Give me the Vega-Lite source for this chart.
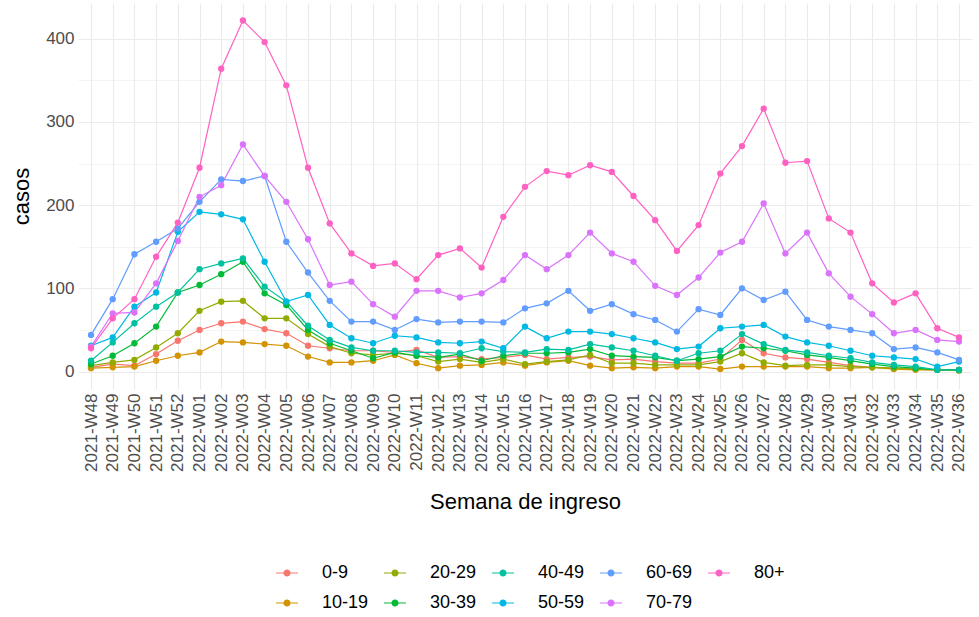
{
  "$schema": "https://vega.github.io/schema/vega-lite/v6.json",
  "width": 894,
  "height": 386,
  "autosize": {"type": "none"},
  "padding": {"left": 78, "top": 3, "right": 7, "bottom": 228},
  "background": "white",
  "config": {"view": {"stroke": null}, "font": "Liberation Sans"},
  "datasets": {
    "d": [
      {"semana":"2021-W48","edad":"0-9","casos":5},{"semana":"2021-W49","edad":"0-9","casos":9},{"semana":"2021-W50","edad":"0-9","casos":7},{"semana":"2021-W51","edad":"0-9","casos":21},{"semana":"2021-W52","edad":"0-9","casos":37},{"semana":"2022-W01","edad":"0-9","casos":50},{"semana":"2022-W02","edad":"0-9","casos":58},{"semana":"2022-W03","edad":"0-9","casos":60},{"semana":"2022-W04","edad":"0-9","casos":51},{"semana":"2022-W05","edad":"0-9","casos":46},{"semana":"2022-W06","edad":"0-9","casos":31},{"semana":"2022-W07","edad":"0-9","casos":28},{"semana":"2022-W08","edad":"0-9","casos":25},{"semana":"2022-W09","edad":"0-9","casos":25},{"semana":"2022-W10","edad":"0-9","casos":23},{"semana":"2022-W11","edad":"0-9","casos":26},{"semana":"2022-W12","edad":"0-9","casos":17},{"semana":"2022-W13","edad":"0-9","casos":18},{"semana":"2022-W14","edad":"0-9","casos":15},{"semana":"2022-W15","edad":"0-9","casos":17},{"semana":"2022-W16","edad":"0-9","casos":20},{"semana":"2022-W17","edad":"0-9","casos":15},{"semana":"2022-W18","edad":"0-9","casos":17},{"semana":"2022-W19","edad":"0-9","casos":18},{"semana":"2022-W20","edad":"0-9","casos":14},{"semana":"2022-W21","edad":"0-9","casos":15},{"semana":"2022-W22","edad":"0-9","casos":12},{"semana":"2022-W23","edad":"0-9","casos":10},{"semana":"2022-W24","edad":"0-9","casos":10},{"semana":"2022-W25","edad":"0-9","casos":15},{"semana":"2022-W26","edad":"0-9","casos":38},{"semana":"2022-W27","edad":"0-9","casos":22},{"semana":"2022-W28","edad":"0-9","casos":17},{"semana":"2022-W29","edad":"0-9","casos":15},{"semana":"2022-W30","edad":"0-9","casos":11},{"semana":"2022-W31","edad":"0-9","casos":7},{"semana":"2022-W32","edad":"0-9","casos":5},{"semana":"2022-W33","edad":"0-9","casos":4},{"semana":"2022-W34","edad":"0-9","casos":3},{"semana":"2022-W35","edad":"0-9","casos":2},{"semana":"2022-W36","edad":"0-9","casos":2},
      {"semana":"2021-W48","edad":"10-19","casos":4},{"semana":"2021-W49","edad":"10-19","casos":5},{"semana":"2021-W50","edad":"10-19","casos":6},{"semana":"2021-W51","edad":"10-19","casos":13},{"semana":"2021-W52","edad":"10-19","casos":19},{"semana":"2022-W01","edad":"10-19","casos":23},{"semana":"2022-W02","edad":"10-19","casos":36},{"semana":"2022-W03","edad":"10-19","casos":35},{"semana":"2022-W04","edad":"10-19","casos":33},{"semana":"2022-W05","edad":"10-19","casos":31},{"semana":"2022-W06","edad":"10-19","casos":18},{"semana":"2022-W07","edad":"10-19","casos":11},{"semana":"2022-W08","edad":"10-19","casos":11},{"semana":"2022-W09","edad":"10-19","casos":13},{"semana":"2022-W10","edad":"10-19","casos":20},{"semana":"2022-W11","edad":"10-19","casos":10},{"semana":"2022-W12","edad":"10-19","casos":4},{"semana":"2022-W13","edad":"10-19","casos":7},{"semana":"2022-W14","edad":"10-19","casos":8},{"semana":"2022-W15","edad":"10-19","casos":11},{"semana":"2022-W16","edad":"10-19","casos":7},{"semana":"2022-W17","edad":"10-19","casos":11},{"semana":"2022-W18","edad":"10-19","casos":13},{"semana":"2022-W19","edad":"10-19","casos":7},{"semana":"2022-W20","edad":"10-19","casos":4},{"semana":"2022-W21","edad":"10-19","casos":5},{"semana":"2022-W22","edad":"10-19","casos":4},{"semana":"2022-W23","edad":"10-19","casos":6},{"semana":"2022-W24","edad":"10-19","casos":6},{"semana":"2022-W25","edad":"10-19","casos":3},{"semana":"2022-W26","edad":"10-19","casos":6},{"semana":"2022-W27","edad":"10-19","casos":6},{"semana":"2022-W28","edad":"10-19","casos":6},{"semana":"2022-W29","edad":"10-19","casos":6},{"semana":"2022-W30","edad":"10-19","casos":4},{"semana":"2022-W31","edad":"10-19","casos":4},{"semana":"2022-W32","edad":"10-19","casos":5},{"semana":"2022-W33","edad":"10-19","casos":3},{"semana":"2022-W34","edad":"10-19","casos":2},{"semana":"2022-W35","edad":"10-19","casos":2},{"semana":"2022-W36","edad":"10-19","casos":2},
      {"semana":"2021-W48","edad":"20-29","casos":7},{"semana":"2021-W49","edad":"20-29","casos":11},{"semana":"2021-W50","edad":"20-29","casos":14},{"semana":"2021-W51","edad":"20-29","casos":29},{"semana":"2021-W52","edad":"20-29","casos":46},{"semana":"2022-W01","edad":"20-29","casos":73},{"semana":"2022-W02","edad":"20-29","casos":84},{"semana":"2022-W03","edad":"20-29","casos":85},{"semana":"2022-W04","edad":"20-29","casos":64},{"semana":"2022-W05","edad":"20-29","casos":64},{"semana":"2022-W06","edad":"20-29","casos":45},{"semana":"2022-W07","edad":"20-29","casos":30},{"semana":"2022-W08","edad":"20-29","casos":22},{"semana":"2022-W09","edad":"20-29","casos":20},{"semana":"2022-W10","edad":"20-29","casos":22},{"semana":"2022-W11","edad":"20-29","casos":19},{"semana":"2022-W12","edad":"20-29","casos":12},{"semana":"2022-W13","edad":"20-29","casos":15},{"semana":"2022-W14","edad":"20-29","casos":11},{"semana":"2022-W15","edad":"20-29","casos":15},{"semana":"2022-W16","edad":"20-29","casos":9},{"semana":"2022-W17","edad":"20-29","casos":12},{"semana":"2022-W18","edad":"20-29","casos":14},{"semana":"2022-W19","edad":"20-29","casos":20},{"semana":"2022-W20","edad":"20-29","casos":10},{"semana":"2022-W21","edad":"20-29","casos":10},{"semana":"2022-W22","edad":"20-29","casos":8},{"semana":"2022-W23","edad":"20-29","casos":8},{"semana":"2022-W24","edad":"20-29","casos":8},{"semana":"2022-W25","edad":"20-29","casos":12},{"semana":"2022-W26","edad":"20-29","casos":22},{"semana":"2022-W27","edad":"20-29","casos":11},{"semana":"2022-W28","edad":"20-29","casos":7},{"semana":"2022-W29","edad":"20-29","casos":8},{"semana":"2022-W30","edad":"20-29","casos":8},{"semana":"2022-W31","edad":"20-29","casos":6},{"semana":"2022-W32","edad":"20-29","casos":5},{"semana":"2022-W33","edad":"20-29","casos":4},{"semana":"2022-W34","edad":"20-29","casos":3},{"semana":"2022-W35","edad":"20-29","casos":2},{"semana":"2022-W36","edad":"20-29","casos":1},
      {"semana":"2021-W48","edad":"30-39","casos":9},{"semana":"2021-W49","edad":"30-39","casos":19},{"semana":"2021-W50","edad":"30-39","casos":34},{"semana":"2021-W51","edad":"30-39","casos":54},{"semana":"2021-W52","edad":"30-39","casos":95},{"semana":"2022-W01","edad":"30-39","casos":104},{"semana":"2022-W02","edad":"30-39","casos":117},{"semana":"2022-W03","edad":"30-39","casos":132},{"semana":"2022-W04","edad":"30-39","casos":94},{"semana":"2022-W05","edad":"30-39","casos":80},{"semana":"2022-W06","edad":"30-39","casos":50},{"semana":"2022-W07","edad":"30-39","casos":34},{"semana":"2022-W08","edad":"30-39","casos":25},{"semana":"2022-W09","edad":"30-39","casos":16},{"semana":"2022-W10","edad":"30-39","casos":23},{"semana":"2022-W11","edad":"30-39","casos":19},{"semana":"2022-W12","edad":"30-39","casos":17},{"semana":"2022-W13","edad":"30-39","casos":21},{"semana":"2022-W14","edad":"30-39","casos":13},{"semana":"2022-W15","edad":"30-39","casos":19},{"semana":"2022-W16","edad":"30-39","casos":22},{"semana":"2022-W17","edad":"30-39","casos":22},{"semana":"2022-W18","edad":"30-39","casos":23},{"semana":"2022-W19","edad":"30-39","casos":27},{"semana":"2022-W20","edad":"30-39","casos":19},{"semana":"2022-W21","edad":"30-39","casos":18},{"semana":"2022-W22","edad":"30-39","casos":17},{"semana":"2022-W23","edad":"30-39","casos":13},{"semana":"2022-W24","edad":"30-39","casos":15},{"semana":"2022-W25","edad":"30-39","casos":18},{"semana":"2022-W26","edad":"30-39","casos":30},{"semana":"2022-W27","edad":"30-39","casos":28},{"semana":"2022-W28","edad":"30-39","casos":25},{"semana":"2022-W29","edad":"30-39","casos":20},{"semana":"2022-W30","edad":"30-39","casos":17},{"semana":"2022-W31","edad":"30-39","casos":13},{"semana":"2022-W32","edad":"30-39","casos":9},{"semana":"2022-W33","edad":"30-39","casos":6},{"semana":"2022-W34","edad":"30-39","casos":4},{"semana":"2022-W35","edad":"30-39","casos":2},{"semana":"2022-W36","edad":"30-39","casos":2},
      {"semana":"2021-W48","edad":"40-49","casos":13},{"semana":"2021-W49","edad":"40-49","casos":35},{"semana":"2021-W50","edad":"40-49","casos":58},{"semana":"2021-W51","edad":"40-49","casos":78},{"semana":"2021-W52","edad":"40-49","casos":95},{"semana":"2022-W01","edad":"40-49","casos":123},{"semana":"2022-W02","edad":"40-49","casos":130},{"semana":"2022-W03","edad":"40-49","casos":136},{"semana":"2022-W04","edad":"40-49","casos":102},{"semana":"2022-W05","edad":"40-49","casos":84},{"semana":"2022-W06","edad":"40-49","casos":55},{"semana":"2022-W07","edad":"40-49","casos":38},{"semana":"2022-W08","edad":"40-49","casos":29},{"semana":"2022-W09","edad":"40-49","casos":25},{"semana":"2022-W10","edad":"40-49","casos":25},{"semana":"2022-W11","edad":"40-49","casos":23},{"semana":"2022-W12","edad":"40-49","casos":23},{"semana":"2022-W13","edad":"40-49","casos":22},{"semana":"2022-W14","edad":"40-49","casos":28},{"semana":"2022-W15","edad":"40-49","casos":24},{"semana":"2022-W16","edad":"40-49","casos":23},{"semana":"2022-W17","edad":"40-49","casos":27},{"semana":"2022-W18","edad":"40-49","casos":26},{"semana":"2022-W19","edad":"40-49","casos":33},{"semana":"2022-W20","edad":"40-49","casos":29},{"semana":"2022-W21","edad":"40-49","casos":25},{"semana":"2022-W22","edad":"40-49","casos":19},{"semana":"2022-W23","edad":"40-49","casos":13},{"semana":"2022-W24","edad":"40-49","casos":22},{"semana":"2022-W25","edad":"40-49","casos":25},{"semana":"2022-W26","edad":"40-49","casos":45},{"semana":"2022-W27","edad":"40-49","casos":33},{"semana":"2022-W28","edad":"40-49","casos":26},{"semana":"2022-W29","edad":"40-49","casos":23},{"semana":"2022-W30","edad":"40-49","casos":19},{"semana":"2022-W31","edad":"40-49","casos":16},{"semana":"2022-W32","edad":"40-49","casos":11},{"semana":"2022-W33","edad":"40-49","casos":8},{"semana":"2022-W34","edad":"40-49","casos":6},{"semana":"2022-W35","edad":"40-49","casos":2},{"semana":"2022-W36","edad":"40-49","casos":2},
      {"semana":"2021-W48","edad":"50-59","casos":31},{"semana":"2021-W49","edad":"50-59","casos":41},{"semana":"2021-W50","edad":"50-59","casos":78},{"semana":"2021-W51","edad":"50-59","casos":95},{"semana":"2021-W52","edad":"50-59","casos":168},{"semana":"2022-W01","edad":"50-59","casos":192},{"semana":"2022-W02","edad":"50-59","casos":189},{"semana":"2022-W03","edad":"50-59","casos":183},{"semana":"2022-W04","edad":"50-59","casos":132},{"semana":"2022-W05","edad":"50-59","casos":84},{"semana":"2022-W06","edad":"50-59","casos":92},{"semana":"2022-W07","edad":"50-59","casos":56},{"semana":"2022-W08","edad":"50-59","casos":40},{"semana":"2022-W09","edad":"50-59","casos":34},{"semana":"2022-W10","edad":"50-59","casos":43},{"semana":"2022-W11","edad":"50-59","casos":41},{"semana":"2022-W12","edad":"50-59","casos":35},{"semana":"2022-W13","edad":"50-59","casos":34},{"semana":"2022-W14","edad":"50-59","casos":36},{"semana":"2022-W15","edad":"50-59","casos":28},{"semana":"2022-W16","edad":"50-59","casos":54},{"semana":"2022-W17","edad":"50-59","casos":40},{"semana":"2022-W18","edad":"50-59","casos":48},{"semana":"2022-W19","edad":"50-59","casos":48},{"semana":"2022-W20","edad":"50-59","casos":45},{"semana":"2022-W21","edad":"50-59","casos":40},{"semana":"2022-W22","edad":"50-59","casos":35},{"semana":"2022-W23","edad":"50-59","casos":27},{"semana":"2022-W24","edad":"50-59","casos":30},{"semana":"2022-W25","edad":"50-59","casos":52},{"semana":"2022-W26","edad":"50-59","casos":54},{"semana":"2022-W27","edad":"50-59","casos":56},{"semana":"2022-W28","edad":"50-59","casos":42},{"semana":"2022-W29","edad":"50-59","casos":35},{"semana":"2022-W30","edad":"50-59","casos":31},{"semana":"2022-W31","edad":"50-59","casos":25},{"semana":"2022-W32","edad":"50-59","casos":19},{"semana":"2022-W33","edad":"50-59","casos":17},{"semana":"2022-W34","edad":"50-59","casos":15},{"semana":"2022-W35","edad":"50-59","casos":6},{"semana":"2022-W36","edad":"50-59","casos":12},
      {"semana":"2021-W48","edad":"60-69","casos":44},{"semana":"2021-W49","edad":"60-69","casos":87},{"semana":"2021-W50","edad":"60-69","casos":141},{"semana":"2021-W51","edad":"60-69","casos":156},{"semana":"2021-W52","edad":"60-69","casos":172},{"semana":"2022-W01","edad":"60-69","casos":204},{"semana":"2022-W02","edad":"60-69","casos":231},{"semana":"2022-W03","edad":"60-69","casos":229},{"semana":"2022-W04","edad":"60-69","casos":235},{"semana":"2022-W05","edad":"60-69","casos":156},{"semana":"2022-W06","edad":"60-69","casos":119},{"semana":"2022-W07","edad":"60-69","casos":85},{"semana":"2022-W08","edad":"60-69","casos":60},{"semana":"2022-W09","edad":"60-69","casos":60},{"semana":"2022-W10","edad":"60-69","casos":50},{"semana":"2022-W11","edad":"60-69","casos":63},{"semana":"2022-W12","edad":"60-69","casos":59},{"semana":"2022-W13","edad":"60-69","casos":60},{"semana":"2022-W14","edad":"60-69","casos":60},{"semana":"2022-W15","edad":"60-69","casos":59},{"semana":"2022-W16","edad":"60-69","casos":76},{"semana":"2022-W17","edad":"60-69","casos":82},{"semana":"2022-W18","edad":"60-69","casos":97},{"semana":"2022-W19","edad":"60-69","casos":73},{"semana":"2022-W20","edad":"60-69","casos":81},{"semana":"2022-W21","edad":"60-69","casos":69},{"semana":"2022-W22","edad":"60-69","casos":62},{"semana":"2022-W23","edad":"60-69","casos":48},{"semana":"2022-W24","edad":"60-69","casos":75},{"semana":"2022-W25","edad":"60-69","casos":68},{"semana":"2022-W26","edad":"60-69","casos":100},{"semana":"2022-W27","edad":"60-69","casos":86},{"semana":"2022-W28","edad":"60-69","casos":96},{"semana":"2022-W29","edad":"60-69","casos":62},{"semana":"2022-W30","edad":"60-69","casos":54},{"semana":"2022-W31","edad":"60-69","casos":50},{"semana":"2022-W32","edad":"60-69","casos":46},{"semana":"2022-W33","edad":"60-69","casos":27},{"semana":"2022-W34","edad":"60-69","casos":29},{"semana":"2022-W35","edad":"60-69","casos":23},{"semana":"2022-W36","edad":"60-69","casos":14},
      {"semana":"2021-W48","edad":"70-79","casos":30},{"semana":"2021-W49","edad":"70-79","casos":70},{"semana":"2021-W50","edad":"70-79","casos":71},{"semana":"2021-W51","edad":"70-79","casos":106},{"semana":"2021-W52","edad":"70-79","casos":157},{"semana":"2022-W01","edad":"70-79","casos":210},{"semana":"2022-W02","edad":"70-79","casos":224},{"semana":"2022-W03","edad":"70-79","casos":273},{"semana":"2022-W04","edad":"70-79","casos":235},{"semana":"2022-W05","edad":"70-79","casos":204},{"semana":"2022-W06","edad":"70-79","casos":159},{"semana":"2022-W07","edad":"70-79","casos":104},{"semana":"2022-W08","edad":"70-79","casos":108},{"semana":"2022-W09","edad":"70-79","casos":81},{"semana":"2022-W10","edad":"70-79","casos":66},{"semana":"2022-W11","edad":"70-79","casos":97},{"semana":"2022-W12","edad":"70-79","casos":97},{"semana":"2022-W13","edad":"70-79","casos":89},{"semana":"2022-W14","edad":"70-79","casos":94},{"semana":"2022-W15","edad":"70-79","casos":110},{"semana":"2022-W16","edad":"70-79","casos":140},{"semana":"2022-W17","edad":"70-79","casos":123},{"semana":"2022-W18","edad":"70-79","casos":140},{"semana":"2022-W19","edad":"70-79","casos":167},{"semana":"2022-W20","edad":"70-79","casos":142},{"semana":"2022-W21","edad":"70-79","casos":132},{"semana":"2022-W22","edad":"70-79","casos":103},{"semana":"2022-W23","edad":"70-79","casos":92},{"semana":"2022-W24","edad":"70-79","casos":113},{"semana":"2022-W25","edad":"70-79","casos":143},{"semana":"2022-W26","edad":"70-79","casos":156},{"semana":"2022-W27","edad":"70-79","casos":202},{"semana":"2022-W28","edad":"70-79","casos":142},{"semana":"2022-W29","edad":"70-79","casos":167},{"semana":"2022-W30","edad":"70-79","casos":118},{"semana":"2022-W31","edad":"70-79","casos":90},{"semana":"2022-W32","edad":"70-79","casos":69},{"semana":"2022-W33","edad":"70-79","casos":46},{"semana":"2022-W34","edad":"70-79","casos":50},{"semana":"2022-W35","edad":"70-79","casos":38},{"semana":"2022-W36","edad":"70-79","casos":36},
      {"semana":"2021-W48","edad":"80+","casos":28},{"semana":"2021-W49","edad":"80+","casos":64},{"semana":"2021-W50","edad":"80+","casos":87},{"semana":"2021-W51","edad":"80+","casos":138},{"semana":"2021-W52","edad":"80+","casos":179},{"semana":"2022-W01","edad":"80+","casos":245},{"semana":"2022-W02","edad":"80+","casos":364},{"semana":"2022-W03","edad":"80+","casos":422},{"semana":"2022-W04","edad":"80+","casos":396},{"semana":"2022-W05","edad":"80+","casos":344},{"semana":"2022-W06","edad":"80+","casos":245},{"semana":"2022-W07","edad":"80+","casos":178},{"semana":"2022-W08","edad":"80+","casos":142},{"semana":"2022-W09","edad":"80+","casos":127},{"semana":"2022-W10","edad":"80+","casos":130},{"semana":"2022-W11","edad":"80+","casos":111},{"semana":"2022-W12","edad":"80+","casos":140},{"semana":"2022-W13","edad":"80+","casos":148},{"semana":"2022-W14","edad":"80+","casos":125},{"semana":"2022-W15","edad":"80+","casos":186},{"semana":"2022-W16","edad":"80+","casos":222},{"semana":"2022-W17","edad":"80+","casos":241},{"semana":"2022-W18","edad":"80+","casos":236},{"semana":"2022-W19","edad":"80+","casos":248},{"semana":"2022-W20","edad":"80+","casos":240},{"semana":"2022-W21","edad":"80+","casos":211},{"semana":"2022-W22","edad":"80+","casos":182},{"semana":"2022-W23","edad":"80+","casos":145},{"semana":"2022-W24","edad":"80+","casos":176},{"semana":"2022-W25","edad":"80+","casos":238},{"semana":"2022-W26","edad":"80+","casos":271},{"semana":"2022-W27","edad":"80+","casos":316},{"semana":"2022-W28","edad":"80+","casos":251},{"semana":"2022-W29","edad":"80+","casos":253},{"semana":"2022-W30","edad":"80+","casos":184},{"semana":"2022-W31","edad":"80+","casos":167},{"semana":"2022-W32","edad":"80+","casos":106},{"semana":"2022-W33","edad":"80+","casos":83},{"semana":"2022-W34","edad":"80+","casos":94},{"semana":"2022-W35","edad":"80+","casos":52},{"semana":"2022-W36","edad":"80+","casos":41}
    ]
  },
  "data": {"name": "d"},
  "encoding": {
    "x": {
      "field": "semana",
      "type": "ordinal",
      "sort": null,
      "title": "Semana de ingreso",
      "scale": {"type": "point", "padding": 0.6},
      "axis": {
        "labelAngle": 270,
        "labelFontSize": 17,
        "labelColor": "#4D4D4D",
        "labelPadding": 4,
        "ticks": false,
        "domain": false,
        "grid": true,
        "gridColor": "#EBEBEB",
        "gridWidth": 1.1,
        "titleFontSize": 22,
        "titleFontWeight": "normal",
        "titleColor": "#000000",
        "titlePadding": 20
      }
    },
    "y": {
      "field": "casos",
      "type": "quantitative",
      "title": "casos",
      "scale": {"domain": [-21, 443], "nice": false, "zero": false},
      "axis": {
        "values": [0, 50, 100, 150, 200, 250, 300, 350, 400],
        "labelExpr": "datum.value % 100 === 0 ? datum.label : ''",
        "labelFontSize": 17,
        "labelColor": "#4D4D4D",
        "labelPadding": 4,
        "ticks": false,
        "domain": false,
        "grid": true,
        "gridColor": "#EBEBEB",
        "gridWidth": {"condition": {"test": "datum.value % 100 === 0", "value": 1.1}, "value": 0.55},
        "titleFontSize": 22,
        "titleFontWeight": "normal",
        "titleColor": "#000000",
        "titlePadding": 12
      }
    },
    "color": {
      "field": "edad",
      "type": "nominal",
      "scale": {
        "domain": ["0-9", "20-29", "40-49", "60-69", "80+", "10-19", "30-39", "50-59", "70-79"],
        "range": ["#F8766D", "#93AA00", "#00C19F", "#619CFF", "#FF61C3", "#D39200", "#00BA38", "#00B9E3", "#DB72FB"]
      },
      "legend": {
        "title": null,
        "orient": "none",
        "legendX": 197,
        "legendY": 558,
        "direction": "horizontal",
        "columns": 5,
        "padding": 0,
        "labelFontSize": 18,
        "labelColor": "#000000",
        "labelOffset": 23,
        "columnPadding": 12,
        "rowPadding": 9,
        "symbolType": "M-1,0L1,0M0.27,0A0.27,0.27 0 1,1 -0.27,0A0.27,0.27 0 1,1 0.27,0Z",
        "symbolSize": 484,
        "symbolStrokeWidth": 1.2,
        "symbolOpacity": 1,
        "encode": {
          "symbols": {
            "update": {
              "stroke": {"scale": "color", "field": "value"},
              "fill": {"scale": "color", "field": "value"},
              "strokeWidth": {"value": 1.2},
              "strokeOpacity": {"value": 1},
              "opacity": {"value": 1}
            }
          }
        }
      }
    }
  },
  "layer": [
    {"mark": {"type": "line", "strokeWidth": 1.2}},
    {"mark": {"type": "point", "filled": true, "size": 40, "opacity": 1}}
  ]
}
